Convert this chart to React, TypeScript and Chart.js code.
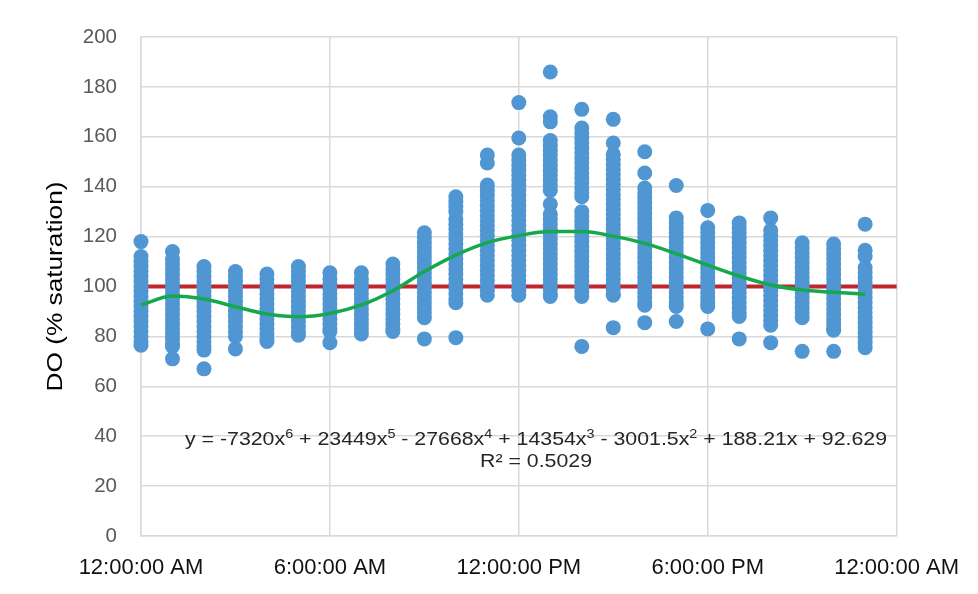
import React, { useEffect, useRef } from "react";
import { Chart, registerables } from "chart.js";

Chart.register(...registerables);

// Hour of day (x) for each column of observations
const hours = [0, 1, 2, 3, 4, 5, 6, 7, 8, 9, 10, 11, 12, 13, 14, 15, 16, 17, 18, 19, 20, 21, 22, 23];

// DO (% saturation) observations read per hour column
const do00 = [118, 112, 110, 108, 106, 104, 102, 100, 98, 96, 94, 92, 90, 88, 86, 84, 82, 80, 78, 76.5];
const do01 = [114, 111, 109, 107, 105, 103, 101, 99, 97, 95, 93, 91, 89, 87, 85, 83, 81, 79, 77, 76, 71];
const do02 = [108, 106, 104, 102, 100, 98, 96, 94, 92, 90, 88, 86, 84, 82, 80, 78, 76, 74.5, 67];
const do03 = [106, 104, 102, 100, 98, 96, 94, 92, 90, 88, 86, 84, 82, 80, 75];
const do04 = [105, 103, 101, 99, 97, 95, 93, 91, 89, 87, 85, 83, 81, 79, 78];
const do05 = [108, 106, 104, 102, 100, 98, 96, 94, 92, 90, 88, 86, 84, 82, 80.5];
const do06 = [105.5, 103, 101, 99, 97, 95, 93, 91, 89, 87, 85, 83, 82, 77.5];
const do07 = [105.5, 103, 101, 99, 97, 95, 93, 91, 89, 87, 85, 83, 81];
const do08 = [109, 107, 105, 103, 101, 99, 97, 95, 93, 91, 89, 87, 85, 83, 82];
const do09 = [121.5, 119.5, 117.5, 115.5, 113.5, 111.5, 109.5, 107.5, 105.5, 103.5, 101.5, 99.5, 97.5, 95.5, 93.5, 91.5, 89.5, 87.5, 79];
const do10 = [136, 134, 132, 130, 127, 125, 123, 121, 119, 117, 115, 113, 111, 109, 107, 105, 103, 101, 99, 97, 95, 93.5, 79.5];
const do11 = [152.7, 149.5, 140.7, 138.5, 136.5, 134.5, 132.5, 130.5, 128.5, 126.5, 124.5, 122.5, 120.5, 118.5, 116.5, 114.5, 112.5, 110.5, 108.5, 106.5, 104.5, 102.5, 100.5, 98.5, 96.5];
const do12 = [173.7, 159.5, 152.7, 150.5, 148.5, 146.5, 144.5, 142.5, 140.5, 138.5, 136.5, 134.5, 132.5, 130.5, 128.5, 126.5, 124.5, 122.5, 120.5, 118.5, 116.5, 114.5, 112.5, 110.5, 108.5, 106.5, 104.5, 102.5, 100.5, 98.5, 96.5];
const do13 = [186, 168, 166, 158.5, 156.5, 154.5, 152.5, 150.5, 148.5, 146.5, 144.5, 142.5, 140.5, 138.5, 133, 129, 127, 125, 123, 121, 119, 117, 115, 113, 111, 109, 107, 105, 103, 101, 99, 97, 96];
const do14 = [171, 163.5, 161.5, 159.5, 157.5, 155.5, 153.5, 151.5, 149.5, 147.5, 145.5, 143.5, 141.5, 139.5, 137.5, 136, 130, 128, 126, 124, 122, 120, 118, 116, 114, 112, 110, 108, 106, 104, 102, 100, 98, 96, 76];
const do15 = [167, 157.5, 153, 151, 149, 147, 145, 143, 141, 139, 137, 135, 133, 131, 129, 127, 125, 123, 121, 119, 117, 115, 113, 111, 109, 107, 105, 103, 101, 99, 97, 96.5, 83.5];
const do16 = [154, 145.5, 139.5, 137.5, 135.5, 133.5, 131.5, 129.5, 127.5, 125.5, 123.5, 121.5, 119.5, 117.5, 115.5, 113.5, 111.5, 109.5, 107.5, 105.5, 103.5, 101.5, 99.5, 97.5, 95.5, 93.5, 92.5, 85.5];
const do17 = [140.5, 127.5, 125.5, 123.5, 121.5, 119.5, 117.5, 115.5, 113.5, 111.5, 109.5, 107.5, 105.5, 103.5, 101.5, 99.5, 97.5, 95.5, 93.5, 92, 86];
const do18 = [130.5, 123.5, 121.5, 119.5, 117.5, 115.5, 113.5, 111.5, 109.5, 107.5, 105.5, 103.5, 101.5, 99.5, 97.5, 95.5, 93.5, 92, 83];
const do19 = [125.5, 123.5, 121.5, 119.5, 117.5, 115.5, 113.5, 111.5, 109.5, 107.5, 105.5, 103.5, 101.5, 99.5, 97.5, 95.5, 93.5, 91.5, 89.5, 88, 79];
const do20 = [127.5, 122.5, 120.5, 118.5, 116.5, 114.5, 112.5, 110.5, 108.5, 106.5, 104.5, 102.5, 100.5, 98.5, 96.5, 94.5, 92.5, 90.5, 88.5, 86.5, 84.5, 77.5];
const do21 = [117.5, 115.5, 113.5, 111.5, 109.5, 107.5, 105.5, 103.5, 101.5, 99.5, 97.5, 95.5, 93.5, 91.5, 89.5, 87.5, 74];
const do22 = [117, 115, 113, 111, 109, 107, 105, 103, 101, 99, 97, 95, 93, 91, 89, 87, 85, 83, 82.5, 74];
const do23 = [125, 114.5, 112, 107.5, 105.5, 103.5, 101.5, 99.5, 97.5, 95.5, 93.5, 91.5, 89.5, 87.5, 85.5, 83.5, 81.5, 79.5, 77.5, 75.5];

// Polynomial trend line at each hour
const trendValues = [92.6, 96.2, 95.0, 91.9, 89.0, 87.9, 89.2, 92.6, 98.3, 106.0, 112.6, 117.6, 120.4, 122.0, 122.0, 120.2, 117.3, 113.2, 108.6, 104.2, 100.6, 98.6, 97.7, 96.9];

// 100% saturation reference line
const refX = [0, 24];
const refY = [100, 100];

// Axis ticks
const xTickValues = [0, 6, 12, 18, 24];
const xTickLabels = ["12:00:00 AM", "6:00:00 AM", "12:00:00 PM", "6:00:00 PM", "12:00:00 AM"];
const yAxisTitle = "DO (% saturation)";

// Trend line equation text (text, superscript?)
const equationParts: [string, boolean][] = [
  ["y = -7320x", false], ["6", true],
  [" + 23449x", false], ["5", true],
  [" - 27668x", false], ["4", true],
  [" + 14354x", false], ["3", true],
  [" - 3001.5x", false], ["2", true],
  [" + 188.21x + 92.629", false],
];
const rSquaredText = "R² = 0.5029";

const columns = [do00, do01, do02, do03, do04, do05, do06, do07, do08, do09, do10, do11, do12, do13, do14, do15, do16, do17, do18, do19, do20, do21, do22, do23];

const FONT = "'Liberation Sans', Arial, sans-serif";

const textPlugin = {
  id: "textLabels",
  afterDatasetsDraw(chart: any) {
    const ctx = chart.ctx as CanvasRenderingContext2D;
    const area = chart.chartArea;

    // Equation
    const cx = area.left + 395;
    const y1 = area.top + 408;
    const y2 = area.top + 430;
    const mainFont = `18.5px ${FONT}`;
    const supFont = `12.5px ${FONT}`;
    ctx.save();
    ctx.fillStyle = "#262626";
    ctx.textBaseline = "alphabetic";
    ctx.textAlign = "left";
    let total = 0;
    for (const [t, sup] of equationParts) {
      ctx.font = sup ? supFont : mainFont;
      total += ctx.measureText(t).width;
    }
    const sx = 702 / total;
    ctx.translate(cx, 0);
    ctx.scale(sx, 1);
    let x = -total / 2;
    for (const [t, sup] of equationParts) {
      ctx.font = sup ? supFont : mainFont;
      ctx.fillText(t, x, sup ? y1 - 7 : y1);
      x += ctx.measureText(t).width;
    }
    ctx.font = mainFont;
    ctx.textAlign = "center";
    ctx.fillText(rSquaredText, 0, y2);
    ctx.restore();

    // Y axis title (rotated)
    ctx.save();
    ctx.font = `22px ${FONT}`;
    ctx.fillStyle = "#000000";
    ctx.textAlign = "center";
    ctx.textBaseline = "middle";
    const tw = ctx.measureText(yAxisTitle).width;
    ctx.translate(56, (area.top + area.bottom) / 2);
    ctx.rotate(-Math.PI / 2);
    ctx.scale(210 / tw, 1);
    ctx.fillText(yAxisTitle, 0, 0);
    ctx.restore();
  },
};

export default function App() {
  const canvasRef = useRef<HTMLCanvasElement | null>(null);

  useEffect(() => {
    if (!canvasRef.current) return;
    const points: { x: number; y: number }[] = [];
    hours.forEach((h, i) => {
      columns[i].forEach((v) => points.push({ x: h, y: v }));
    });
    const trend = hours.map((h, i) => ({ x: h, y: trendValues[i] }));
    const ref = refX.map((x, i) => ({ x, y: refY[i] }));

    const chart = new Chart(canvasRef.current, {
      type: "scatter",
      data: {
        datasets: [
          {
            label: "Trend",
            data: trend,
            showLine: true,
            borderColor: "#16A84D",
            borderWidth: 3.5,
            pointRadius: 0,
            cubicInterpolationMode: "monotone",
            fill: false,
            clip: false,
            order: 0,
          } as any,
          {
            label: "DO",
            data: points,
            backgroundColor: "#5096D2",
            borderColor: "#5096D2",
            borderWidth: 0,
            pointRadius: 7.5,
            clip: false,
            order: 1,
          } as any,
          {
            label: "100%",
            data: ref,
            showLine: true,
            borderColor: "#C0262D",
            borderWidth: 4,
            pointRadius: 0,
            clip: false,
            order: 2,
          } as any,
        ],
      },
      options: {
        responsive: false,
        animation: false,
        events: [],
        layout: { padding: { left: 0, right: 81, top: 37, bottom: 0 } },
        plugins: {
          legend: { display: false },
          tooltip: { enabled: false },
        },
        scales: {
          x: {
            type: "linear",
            min: 0,
            max: 24,
            afterBuildTicks: (scale: any) => {
              scale.ticks = xTickValues.map((v) => ({ value: v }));
            },
            afterFit: (scale: any) => {
              scale.height = 58;
            },
            ticks: {
              autoSkip: false,
              maxRotation: 0,
              padding: 19,
              color: "#111111",
              font: { family: FONT, size: 22 },
              callback: (value: any) => {
                const idx = xTickValues.indexOf(Number(value));
                return idx >= 0 ? xTickLabels[idx] : "";
              },
            },
            grid: { color: "#d9d9d9", lineWidth: 1.5, drawTicks: false },
            border: { display: true, color: "#d9d9d9", width: 1.5 },
          },
          y: {
            type: "linear",
            min: 0,
            max: 200,
            afterFit: (scale: any) => {
              scale.width = 141;
            },
            ticks: {
              stepSize: 20,
              padding: 24,
              color: "#595959",
              font: { family: FONT, size: 20.5 },
            },
            grid: { color: "#d9d9d9", lineWidth: 1.5, drawTicks: false },
            border: { display: true, color: "#d9d9d9", width: 1.5 },
          },
        },
      },
      plugins: [textPlugin],
    });
    return () => chart.destroy();
  }, []);

  return (
    <div style={{ position: "absolute", left: 0, top: 0, width: 978, height: 594, background: "#ffffff" }}>
      <canvas ref={canvasRef} width={978} height={594} />
    </div>
  );
}
